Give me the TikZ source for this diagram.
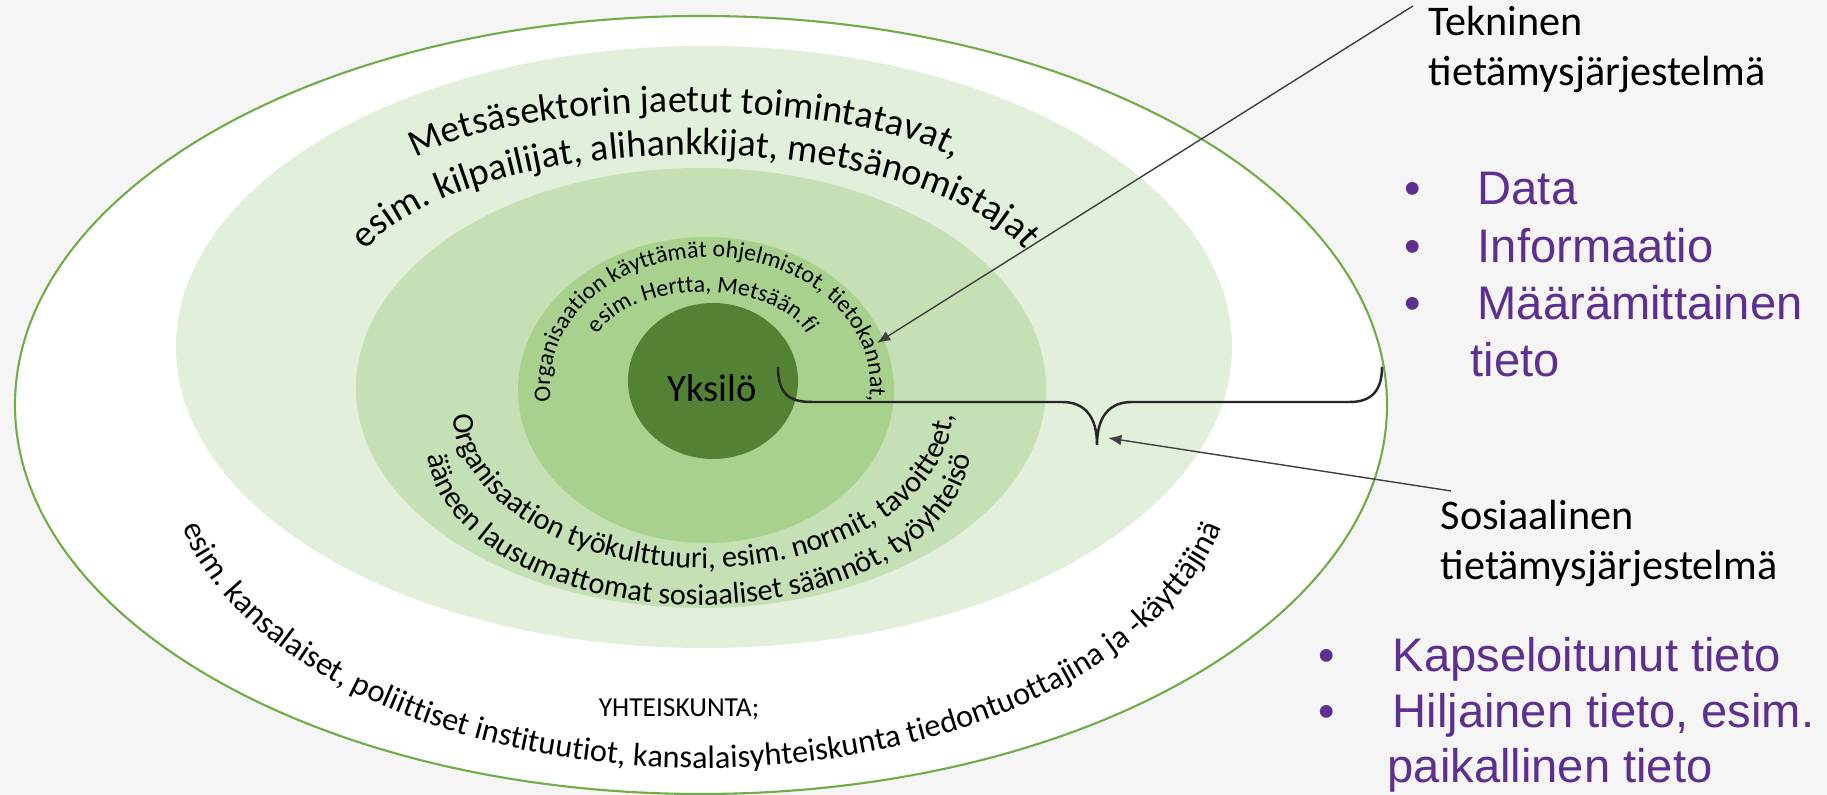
\documentclass[tikz,border=0pt]{standalone}
\usepackage{fontspec}
\setmainfont{Carlito}
\newfontfamily\arialfont{Liberation Sans}
\usetikzlibrary{decorations.text,arrows.meta}

\definecolor{bgray}{HTML}{F5F5F5}
\definecolor{ringline}{HTML}{70AD47}
\definecolor{ringA}{HTML}{E2EFDA}
\definecolor{ringB}{HTML}{C5E0B4}
\definecolor{ringC}{HTML}{A9D18E}
\definecolor{corefill}{HTML}{548235}
\definecolor{knowpurple}{HTML}{5E2F91}

\newcommand\labelfont{\fontsize{12}{14}\selectfont}
\newcommand\knowfont{\arialfont\fontsize{13.4}{16}\selectfont}
\newcommand\selffont{\fontsize{11}{13}\selectfont}
\newcommand\sectorfont{\fontsize{10.8}{12}\selectfont}
\newcommand\toolfont{\fontsize{6.8}{8}\selectfont}
\newcommand\culturefont{\fontsize{8.6}{10}\selectfont}
\newcommand\societyfont{\fontsize{9.2}{11}\selectfont}

\begin{document}
\begin{tikzpicture}[
  x=0.01cm, y=0.01cm,
  every node/.style={inner sep=0pt},
  arc text/.style={
    decoration={text along path, text align=center, text={#1}},
    decorate
  },
  system label/.style={anchor=base west, font=\labelfont},
  knowledge/.style={anchor=base west, text=knowpurple, font=\knowfont},
  bullet/.style={anchor=base, text=knowpurple, font=\knowfont},
  pointer/.style={
    draw=black!75,
    line width=0.4pt,
    -{Latex[length=3.8pt,width=3pt]}
  },
  brace line/.style={
    draw=black!85,
    line width=0.7pt
  },
]
\useasboundingbox (0,0) rectangle (1827,795);
\fill[bgray] (0,0) rectangle (1827,795);

% rings
\filldraw[fill=white, draw=ringline, line width=0.6pt]
  (701,390) ellipse [x radius=686, y radius=389];
\fill[ringA] (704,448) ellipse [x radius=528, y radius=301];
\fill[ringB] (701,407) ellipse [x radius=345, y radius=220];
\fill[ringC] (706,405) ellipse [x radius=188, y radius=153];
\fill[corefill] (713,414) ellipse [x radius=85, y radius=78];

% curved texts
\path[arc text={|\sectorfont|Metsäsektorin jaetut toimintatavat,}]
  (685,606) ++(178:294 and 77) arc[start angle=178, end angle=2, x radius=294, y radius=77];
\path[arc text={|\sectorfont|esim. kilpailijat, alihankkijat, metsänomistajat}]
  (695,501) ++(178:347 and 139) arc[start angle=178, end angle=2, x radius=347, y radius=139];
\path[arc text={|\toolfont|Organisaation käyttämät ohjelmistot, tietokannat,}]
  (710,410) ++(205:160 and 128) arc[start angle=205, end angle=-25, x radius=160, y radius=128];
\path[arc text={|\toolfont|esim. Hertta, Metsään.fi}]
  (703,442) ++(178:110 and 61) arc[start angle=178, end angle=2, x radius=110, y radius=61];
\path[arc text={|\culturefont|Organisaation työkulttuuri, esim. normit, tavoitteet,}]
  (703,385) ++(160:250 and 158) arc[start angle=160, end angle=380, x radius=250, y radius=158];
\path[arc text={|\culturefont|ääneen lausumattomat sosiaaliset säännöt, työyhteisö}]
  (699,350) ++(160:272 and 160) arc[start angle=160, end angle=380, x radius=272, y radius=160];
\path[arc text={|\societyfont|esim. kansalaiset, poliittiset instituutiot, kansalaisyhteiskunta tiedontuottajina ja -käyttäjinä}]
  (702,342) ++(160:535 and 315) arc[start angle=160, end angle=380, x radius=535, y radius=315];

\node[anchor=base, font=\selffont] (self) at (712,393) {Yksilö};
\node[anchor=base, font=\fontsize{7.8}{9}\selectfont] (society) at (679,78) {YHTEISKUNTA;};

% labels on the right
\node[system label] (tech) at (1428,759) {Tekninen};
\node[system label] (techsys) at (1428,709) {tietämysjärjestelmä};
\node[system label] (social) at (1440,265) {Sosiaalinen};
\node[system label] (socialsys) at (1440,215) {tietämysjärjestelmä};

\node[bullet] (dot1) at (1413,590) {•};
\node[knowledge] (data) at (1477,590) {Data};
\node[bullet] (dot2) at (1413,532) {•};
\node[knowledge] (info) at (1477,532) {Informaatio};
\node[bullet] (dot3) at (1413,475) {•};
\node[knowledge] (quant) at (1477,475) {Määrämittainen};
\node[knowledge] (quant2) at (1470,418) {tieto};

\node[bullet] (dot4) at (1327,123) {•};
\node[knowledge] (caps) at (1392,123) {Kapseloitunut tieto};
\node[bullet] (dot5) at (1327,67) {•};
\node[knowledge] (tacit) at (1392,67) {Hiljainen tieto, esim.};
\node[knowledge] (tacit2) at (1387,12) {paikallinen tieto};

% pointers
\coordinate (techfrom) at ([xshift=-0.15cm]tech.north west);
\coordinate (techto) at (877,452);
\draw[pointer] (techfrom) -- (techto);
\coordinate (socialfrom) at ([shift={(11,9)}]social.north west);
\coordinate (socialto) at (1108,357);
\draw[pointer] (socialfrom) -- (socialto);

% brace
\draw[brace line] (778,428) .. controls (778,400) and (790,393) .. (812,393)
  -- (1062,393) .. controls (1085,393) and (1097,378) .. (1097,350)
  .. controls (1097,378) and (1109,393) .. (1132,393)
  -- (1350,393) .. controls (1372,393) and (1382,405) .. (1382,428);
\end{tikzpicture}
\end{document}
